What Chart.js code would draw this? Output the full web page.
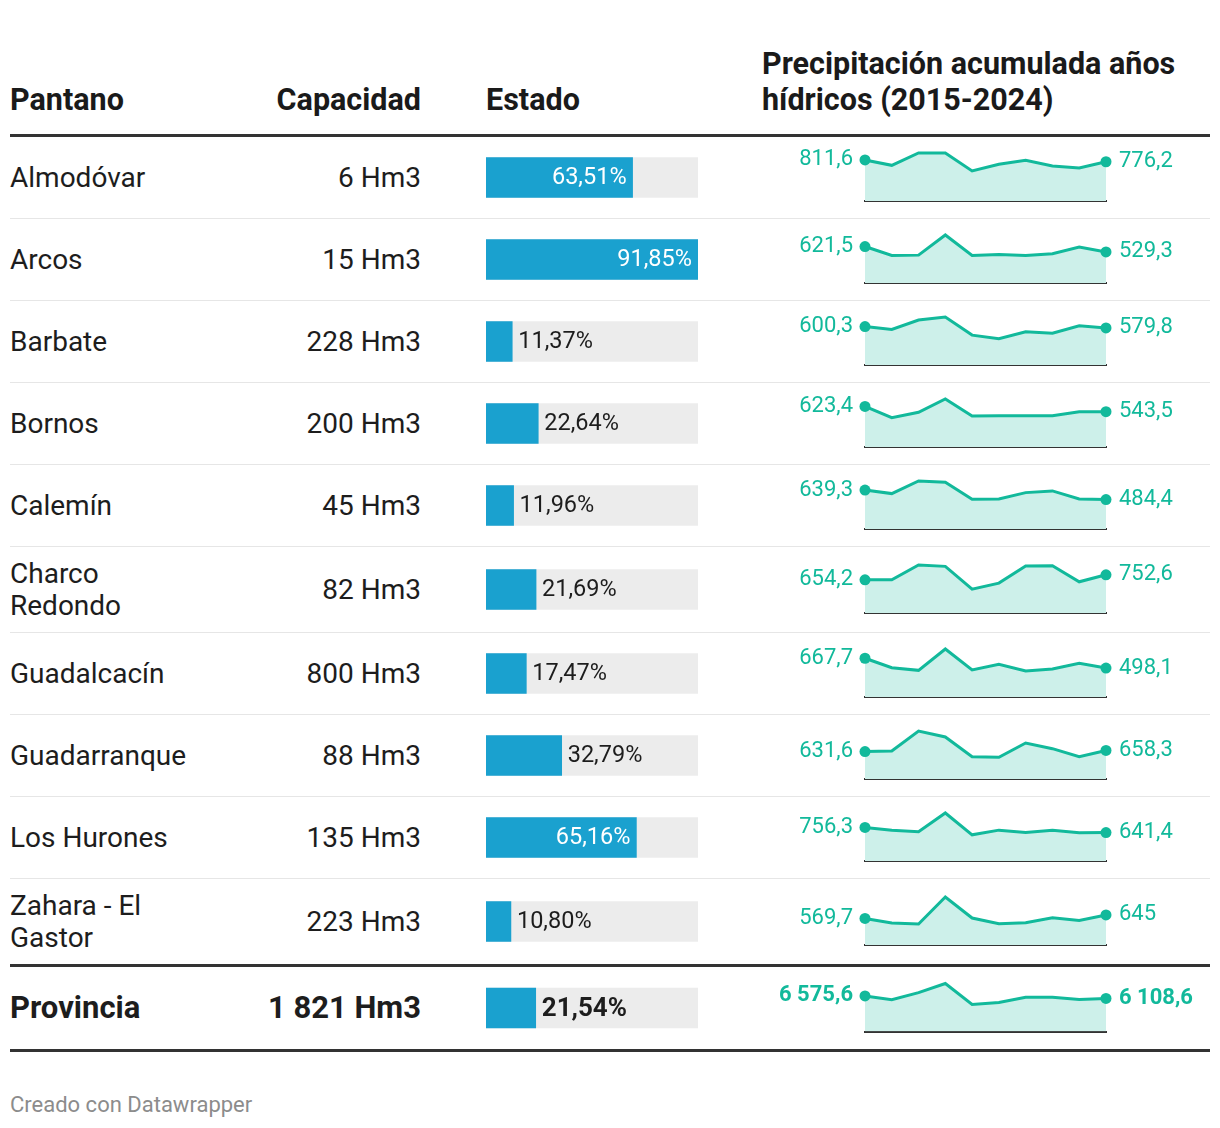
<!DOCTYPE html>
<html lang="es">
<head>
<meta charset="utf-8">
<title>Pantanos de Cádiz</title>
<script src="https://cdn.jsdelivr.net/npm/chart.js@4.4.0/dist/chart.umd.min.js"></script>
<style>
  body { margin: 0; background: #fff; font-family: Roboto, "Noto Sans", sans-serif; color: #1d1d1d; }
  #wrap { position: relative; width: 1200px; margin-left: 10px; }
  .head { position: relative; height: 134px; border-bottom: 3px solid #333; }
  .head div { position: absolute; bottom: 16px; font-weight: 700; font-size: 30.5px; line-height: 36px; color: #1a1a1a; white-space: nowrap; }
  .row { position: relative; height: 81px; border-bottom: 1px solid #e6e6e6; }
  .row.tall { height: 85px; }
  .row.last { border-bottom: none; }
  .row.total { height: 82px; border-top: 3px solid #333; border-bottom: 3px solid #333; }
  .name, .cap { position: absolute; top: 0; bottom: 0; display: flex; align-items: center; font-size: 28px; line-height: 32px; }
  .name { left: 0; width: 240px; }
  .cap { left: 250px; width: 161px; justify-content: flex-end; white-space: nowrap; }
  .total .name, .total .cap { font-weight: 700; font-size: 31px; }
  canvas { position: absolute; top: 0; }
  canvas.bar { left: 476px; }
  canvas.spark { left: 752px; }
  .foot { margin-top: 40px; font-size: 22px; color: #8c8c8c; }
</style>
</head>
<body>
<div id="wrap">
  <div class="head">
    <div style="left:0">Pantano</div>
    <div style="right:789px;text-align:right">Capacidad</div>
    <div style="left:476px">Estado</div>
    <div style="left:752px">Precipitación acumulada años<br>hídricos (2015-2024)</div>
  </div>
  <div id="rows"></div>
  <div class="foot">Creado con Datawrapper</div>
</div>
<script>
// datos
const pantanos = ['Almodóvar', 'Arcos', 'Barbate', 'Bornos', 'Calemín', 'Charco Redondo',
  'Guadalcacín', 'Guadarranque', 'Los Hurones', 'Zahara - El Gastor'];
const capacidad = [6, 15, 228, 200, 45, 82, 800, 88, 135, 223];
const estado = [63.51, 91.85, 11.37, 22.64, 11.96, 21.69, 17.47, 32.79, 65.16, 10.80];

const anios = ['2015', '2016', '2017', '2018', '2019', '2020', '2021', '2022', '2023', '2024'];

const lluviaAlmodovar = [811.6, 705, 949, 949, 593, 725, 804, 692, 652, 776.2];
const lluviaArcos = [621.5, 469, 475, 818, 469, 486, 469, 498, 612, 529.3];
const lluviaBarbate = [600.3, 556, 703, 750, 467, 409, 519, 498, 614, 579.8];
const lluviaBornos = [623.4, 450, 534, 738, 476, 481, 481, 481, 543, 543.5];
const lluviaCalemin = [639.3, 582, 789, 767, 490, 495, 598, 626, 495, 484.4];
const lluviaCharco = [654.2, 654, 945, 918, 469, 588, 925, 931, 614, 752.6];
const lluviaGuadalcacin = [667.7, 505, 459, 827, 465, 563, 448, 482, 580, 498.1];
const lluviaGuadarranque = [631.6, 645, 1106, 968, 515, 499, 829, 699, 515, 658.3];
const lluviaHurones = [756.3, 695, 657, 1081, 590, 695, 642, 695, 635, 641.4];
const lluviaZahara = [569.7, 472, 450, 1029, 579, 457, 478, 586, 528, 645];

const totalCapacidad = 1821;
const totalEstado = 21.54;
const lluviaProvincia = [6575.6, 5872, 7182, 8868, 4996, 5371, 6308, 6308, 5933, 6108.6];

const lluvias = [lluviaAlmodovar, lluviaArcos, lluviaBarbate, lluviaBornos, lluviaCalemin,
  lluviaCharco, lluviaGuadalcacin, lluviaGuadarranque, lluviaHurones, lluviaZahara];

const AZUL = '#1aa1cf';
const VERDE = '#12b99b';

const fmt = (v, dec) => {
  let s = Number.isInteger(v) ? String(v) : v.toFixed(dec);
  let [ent, d] = s.split('.');
  ent = ent.replace(/\B(?=(\d{3})+(?!\d))/g, ' ');
  return d ? ent + ',' + d : ent;
};

const maxEstado = Math.max(...estado);

// etiquetas de la barra
const barLabel = {
  id: 'barLabel',
  afterDatasetsDraw(chart) {
    const ctx = chart.ctx;
    const bar = chart.getDatasetMeta(0).data[0];
    const txt = fmt(chart.data.datasets[0].data[0], 2) + '%';
    const bold = chart.options.plugins.barLabel.bold;
    ctx.save();
    ctx.font = (bold ? '700 26px' : '23.5px') + ' Roboto';
    ctx.textBaseline = 'middle';
    const w = ctx.measureText(txt).width;
    const largo = bar.x - bar.base;
    if (largo > w + 14) {
      ctx.fillStyle = '#fff';
      ctx.textAlign = 'right';
      ctx.fillText(txt, bar.x - 6, bar.y + 1);
    } else {
      ctx.fillStyle = '#1d1d1d';
      ctx.textAlign = 'left';
      ctx.fillText(txt, bar.x + 6, bar.y + 1);
    }
    ctx.restore();
  }
};

// etiquetas de la primera y ultima cifra
const sparkLabel = {
  id: 'sparkLabel',
  afterDatasetsDraw(chart) {
    const ctx = chart.ctx;
    const pts = chart.getDatasetMeta(0).data;
    const vals = chart.data.datasets[0].data;
    const bold = chart.options.plugins.sparkLabel.bold;
    ctx.save();
    ctx.font = (bold ? '700 22px' : '22px') + ' Roboto';
    ctx.fillStyle = VERDE;
    ctx.textBaseline = 'middle';
    ctx.textAlign = 'right';
    ctx.fillText(fmt(vals[0], 1), pts[0].x - 12, pts[0].y);
    ctx.textAlign = 'left';
    const n = pts.length - 1;
    ctx.fillText(fmt(vals[n], 1), pts[n].x + 13, pts[n].y);
    ctx.restore();
  }
};

function makeBar(canvas, valor, bold) {
  new Chart(canvas, {
    type: 'bar',
    data: {
      labels: [''],
      datasets: [
        { data: [valor], backgroundColor: AZUL, barThickness: 40, order: 0 },
        { data: [maxEstado], backgroundColor: '#ececec', barThickness: 40, order: 1 }
      ]
    },
    options: {
      indexAxis: 'y',
      responsive: false,
      animation: false,
      events: [],
      layout: { padding: 0 },
      datasets: { bar: { grouped: false } },
      scales: {
        x: { display: false, min: 0, max: maxEstado },
        y: { display: false }
      },
      plugins: { legend: { display: false }, tooltip: { enabled: false }, barLabel: { bold } }
    },
    plugins: [barLabel]
  });
}

function makeSpark(canvas, serie, bold, pad) {
  const n = serie.length - 1;
  new Chart(canvas, {
    type: 'line',
    data: {
      labels: anios,
      datasets: [{
        data: serie,
        borderColor: VERDE,
        borderWidth: 3,
        backgroundColor: '#cdf0ea',
        fill: 'origin',
        tension: 0,
        clip: false,
        pointRadius: serie.map((v, i) => (i === 0 || i === n) ? 5.5 : 0),
        pointBackgroundColor: VERDE,
        pointBorderWidth: 0
      }]
    },
    options: {
      responsive: false,
      animation: false,
      events: [],
      layout: { padding: { left: 103, right: 104, top: pad, bottom: pad + 1 } },
      scales: {
        x: {
          display: true,
          offset: false,
          grid: { display: false, drawTicks: false },
          ticks: { display: false, padding: 0 },
          border: { display: true, color: '#333', width: 2 }
        },
        y: { display: false, min: 0, max: Math.max(...serie) }
      },
      plugins: { legend: { display: false }, tooltip: { enabled: false }, sparkLabel: { bold } }
    },
    plugins: [sparkLabel]
  });
}

const rows = document.getElementById('rows');

function addRow(nombre, cap, est, serie, cls, bold) {
  const h = cls.includes('tall') ? 85 : (cls.includes('total') ? 82 : 81);
  const row = document.createElement('div');
  row.className = 'row ' + cls;
  row.innerHTML = `<div class="name">${nombre}</div><div class="cap">${fmt(cap, 0)} Hm3</div>`;
  const cb = document.createElement('canvas');
  cb.className = 'bar'; cb.width = 212; cb.height = h;
  const cs = document.createElement('canvas');
  cs.className = 'spark'; cs.width = 448; cs.height = h;
  row.appendChild(cb); row.appendChild(cs);
  rows.appendChild(row);
  makeBar(cb, est, bold);
  makeSpark(cs, serie, bold, (h - 49) / 2);
}

pantanos.forEach((p, i) => {
  let cls = '';
  if (p.length > 12) cls += ' tall';
  if (i === pantanos.length - 1) cls += ' last';
  const nombre = p === 'Charco Redondo' ? 'Charco<br>Redondo' : p === 'Zahara - El Gastor' ? 'Zahara - El<br>Gastor' : p;
  addRow(nombre, capacidad[i], estado[i], lluvias[i], cls, false);
});
addRow('Provincia', totalCapacidad, totalEstado, lluviaProvincia, 'total', true);
</script>
</body>
</html>
